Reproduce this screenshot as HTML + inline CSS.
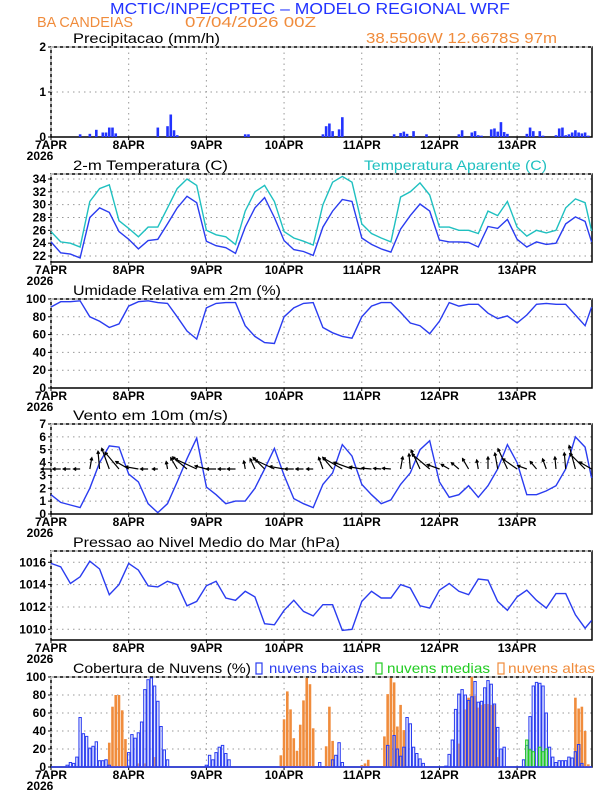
<!DOCTYPE html>
<html><head><meta charset="utf-8">
<style>
body{margin:0;background:#fff;}
svg{display:block;font-family:"Liberation Sans",sans-serif;}
</style></head>
<body>
<svg id="chart" width="612" height="792" viewBox="0 0 612 792">
<text x="110" y="14" textLength="400" lengthAdjust="spacingAndGlyphs" font-size="16" fill="#2233ff">MCTIC/INPE/CPTEC – MODELO REGIONAL WRF</text>
<text x="37" y="27" textLength="96" lengthAdjust="spacingAndGlyphs" font-size="15" fill="#f08c3c">BA CANDEIAS</text>
<text x="185" y="27" textLength="131" lengthAdjust="spacingAndGlyphs" font-size="15" fill="#f08c3c">07/04/2026 00Z</text>
<text x="366" y="43" textLength="191" lengthAdjust="spacingAndGlyphs" font-size="15" fill="#f08c3c">38.5506W 12.6678S 97m</text>
<g id="plots"></g>
</svg>
<script>
// ---- data (hours since 07APR 00Z) ----
const hours = [0,3,6,9,12,15,18,21,24,27,30,33,36,39,42,45,48,51,54,57,60,63,66,69,72,75,78,81,84,87,90,93,96,99,102,105,108,111,114,117,120,123,126,129,132,135,138,141,144,147,150,153,156,159,162,165,167];
const tempVals = [24.2,22.5,22.3,21.7,28.0,29.5,28.8,25.8,24.6,23.1,24.4,24.6,27.0,29.5,31.3,30.3,24.3,23.6,23.3,22.4,26.5,29.5,31.1,28.0,24.4,23.0,22.7,22.1,26.5,29.0,30.8,30.5,24.8,23.8,23.1,22.6,26.2,28.3,30.1,29.0,24.5,24.2,24.2,24.1,23.4,26.6,26.3,27.7,24.6,23.4,24.2,23.8,24.0,27.0,28.1,27.4,24.2];
const apparentVals = [25.8,24.2,24.0,23.4,30.5,32.5,33.1,27.5,26.3,25.0,26.5,26.5,29.5,32.5,34.0,33.0,26.0,25.3,25.0,23.8,29.0,32.0,33.0,30.5,25.8,24.8,24.3,23.7,30.0,33.5,34.4,33.5,27.0,25.5,24.8,24.2,31.2,32.0,33.4,31.5,26.5,26.5,26.0,26.0,25.5,29.0,28.3,30.5,26.5,25.1,26.0,25.6,26.0,29.5,30.9,30.3,25.9];
const rhVals = [91,97,97,98,80,75,68,72,92,97,98,96,95,80,64,55,90,95,96,96,70,58,51,50,80,90,95,96,68,62,58,56,80,92,96,96,85,73,70,61,75,96,92,94,94,84,78,81,73,82,94,95,94,94,82,70,91];
const windSpeed = [1.5,0.9,0.7,0.5,2.0,4.0,5.3,5.2,3.1,2.5,0.8,0.1,0.8,2.5,4.3,5.9,2.1,1.5,0.8,1.0,1.0,2.0,3.5,5.1,3.0,1.2,0.8,0.5,2.3,3.2,5.4,4.5,2.3,1.5,0.8,1.1,2.3,3.2,5.0,5.7,2.5,1.3,1.5,2.2,1.3,2.2,3.5,5.4,4.0,1.5,1.5,1.8,2.2,3.5,6.0,5.2,2.8];
const windDir = [180,180,180,180,80,95,110,130,150,170,180,180,100,120,140,155,165,180,180,180,100,115,135,155,170,180,180,180,110,130,150,160,170,175,175,175,80,95,115,140,160,150,140,120,100,90,100,115,145,160,130,110,95,95,105,135,150];
const pressVals = [1015.9,1015.6,1014.1,1014.7,1016.1,1015.4,1013.1,1014.0,1015.9,1015.3,1013.9,1013.8,1014.3,1014.0,1012.1,1012.5,1013.9,1014.3,1012.8,1012.6,1013.4,1012.9,1010.5,1010.4,1011.7,1012.6,1011.6,1011.2,1012.2,1012.2,1009.9,1010.0,1012.5,1013.4,1012.8,1012.8,1014.0,1013.7,1012.1,1011.9,1013.5,1014.1,1013.4,1013.1,1014.5,1014.4,1012.5,1011.7,1012.9,1013.5,1012.6,1011.9,1013.2,1013.2,1011.3,1010.1,1010.8];
const precipHours = [9,12,14,16,17,18,19,20,33,36,37,38,39,60,61,84,85,86,87,89,90,106,108,109,110,112,116,126,127,130,131,132,133,136,137,138,139,140,141,147,148,149,151,152,156,157,158,159,160,161,162,163,164,165,166];
const precipVals = [0.06,0.07,0.16,0.1,0.1,0.21,0.21,0.08,0.21,0.24,0.5,0.15,0.04,0.06,0.06,0.06,0.24,0.3,0.13,0.17,0.44,0.06,0.09,0.12,0.07,0.13,0.06,0.06,0.15,0.1,0.13,0.04,0.03,0.17,0.19,0.12,0.33,0.11,0.07,0.07,0.21,0.13,0.13,0.03,0.04,0.19,0.21,0.04,0.06,0.1,0.15,0.1,0.08,0.1,0.03];
const lowHours = [5,6,7,8,9,10,11,12,13,14,15,16,17,18,24,25,26,27,28,29,30,31,32,33,34,35,36,48,49,50,51,52,53,54,55,83,87,88,89,90,104,106,107,108,109,110,111,112,113,114,115,122,123,124,125,126,127,128,129,130,131,132,133,134,135,136,137,138,139,140,146,147,148,149,150,151,152,153,154,155,156,157,158,159,160,161,162,163,164];
const lowVals = [2,5,4,11,55,37,34,21,23,28,7,7,8,2,16,36,32,38,50,86,97,99,90,73,45,19,8,2,13,8,16,22,24,15,8,5,8,13,27,5,24,35,20,12,22,55,48,22,15,9,4,1,14,30,64,81,86,80,74,78,95,72,73,88,96,92,70,44,20,22,8,24,56,90,94,93,90,60,22,11,5,7,7,7,11,10,17,25,4];
const midHours = [147,148,149,151,152,153];
const midVals = [30,19,17,22,17,20];
const highHours = [18,19,20,21,22,23,27,29,32,71,72,73,74,75,76,77,78,79,80,81,85,86,87,96,97,98,103,104,105,106,107,108,109,126,128,129,130,131,132,133,134,135,136,137,138,162,163,164,165,166];
const highVals = [27,67,80,80,63,31,4,4,11,13,53,84,64,32,18,47,74,99,92,43,23,67,29,2,4,8,34,81,99,94,45,69,41,26,64,77,100,79,66,69,70,70,69,69,11,77,65,67,40,3];
const dayLabels = ["7APR","8APR","9APR","10APR","11APR","12APR","13APR"];

// ---- layout ----
const X0 = 51, PXH = 3.237, XR = 592;
const xOf = h => X0 + h * PXH;
const NS = "http://www.w3.org/2000/svg";
const root = document.getElementById('plots');
function mk(tag, attrs, parent){
  const e = document.createElementNS(NS, tag);
  for (const k in attrs) e.setAttribute(k, attrs[k]);
  (parent || root).appendChild(e);
  return e;
}
function yScale(v0, p0, v1, p1){ return v => p0 + (v - v0) * (p1 - p0) / (v1 - v0); }

function panel(name, top, bottom, ticks, y, title, tw){
  const g = mk('g', {});
  
  
  for (const t of ticks){
    const yy = y(t);
    if (yy > top + 1 && yy < bottom - 1){
      const gl = mk('line', {x1:X0, x2:XR, y1:yy, y2:yy, stroke:'#999', 'stroke-width':1, 'stroke-dasharray':'1.5,4'}, g);
      
      
    }
    mk('line', {x1:X0-3, x2:X0, y1:yy, y2:yy, stroke:'#000', 'stroke-width':1}, g);
    const tl = mk('text', {x:X0-5, y:yy+4, 'text-anchor':'end', 'font-size':12, fill:'#000', 'font-weight':'bold'}, g);
    tl.textContent = t;
    
    
  }
  for (let d = 1; d < 7; d++){
    const xx = xOf(d*24);
    mk('line', {x1:xx, x2:xx, y1:top, y2:bottom, stroke:'#999', 'stroke-width':1, 'stroke-dasharray':'1.5,4'}, g);
  }
  for (let d = 0; d < 7; d++){
    const xx = xOf(d*24);
    mk('line', {x1:xx, x2:xx, y1:bottom, y2:bottom+3, stroke:'#000', 'stroke-width':1}, g);
    const xl = mk('text', {x:xx, y:bottom+12, 'text-anchor':'middle', 'font-size':12, fill:'#000', 'font-weight':'bold'}, g);
    xl.textContent = dayLabels[d];
    
    
  }
  const yr = mk('text', {x:X0-11, y:bottom+23, 'text-anchor':'middle', 'font-size':12, fill:'#000', 'font-weight':'bold'}, g);
  yr.textContent = '2026';
  
  
  const fr = mk('rect', {x:X0, y:top, width:XR-X0, height:bottom-top, fill:'none', stroke:'#000', 'stroke-width':1.5}, g);
  
  
  mk('line', {x1:X0, x2:XR, y1:top, y2:top, stroke:'#fff', 'stroke-width':1, 'stroke-dasharray':'3,3'}, g);
  mk('line', {x1:X0, x2:X0, y1:top, y2:bottom, stroke:'#fff', 'stroke-width':1, 'stroke-dasharray':'3,3'}, g);
  const tt = mk('text', {x:73, y:top-4, 'font-size':14, fill:'#000', textLength:tw, lengthAdjust:'spacingAndGlyphs'}, g);
  tt.textContent = title;
  
  
  return g;
}
function line(g, vals, y, color, name){
  const d = hours.map((h,i) => (i ? 'L' : 'M') + xOf(h).toFixed(1) + ',' + y(vals[i]).toFixed(1)).join('');
  const p = mk('path', {d:d, fill:'none', stroke:color, 'stroke-width':1.4}, g);
  
  
}
function bars(g, hs, vs, y, base, w, fill, stroke, name){
  hs.forEach((h,i) => {
    const yy = y(vs[i]);
    const b = mk('rect', {x:xOf(h)-w/2, y:yy, width:w, height:Math.max(0, base-yy), fill:fill, stroke:stroke, 'stroke-width':stroke==='none'?0:1}, g);
    
    
  });
}

// Precip
const yP = yScale(0, 137, 2, 47);
const gP = panel('precip', 47, 137, [0,1,2], yP, 'Precipitacao (mm/h)', 147);
bars(gP, precipHours, precipVals, yP, 137, 2.6, '#2233ff', 'none', 'precip-bar');

// Temperature
const yT = yScale(22, 256, 34, 179);
const gT = panel('temp', 174, 262, [22,24,26,28,30,32,34], yT, '2-m Temperatura (C)', 155);
line(gT, apparentVals, yT, '#1fc0c0', 'apparent-temp-line');
line(gT, tempVals, yT, '#2a3cf0', 'temp-line');
const at = mk('text', {x:364, y:170, 'font-size':14, fill:'#1fc0c0', textLength:183, lengthAdjust:'spacingAndGlyphs'});
at.textContent = 'Temperatura Aparente (C)';



// RH
const yR = yScale(0, 388, 100, 299);
const gR = panel('rh', 299, 388, [0,20,40,60,80,100], yR, 'Umidade Relativa em 2m (%)', 208);
line(gR, rhVals, yR, '#2a3cf0', 'rh-line');

// Wind
const yW = yScale(0, 514, 7, 424);
const gW = panel('wind', 424, 514, [0,1,2,3,4,5,6,7], yW, 'Vento em 10m (m/s)', 155);
line(gW, windSpeed, yW, '#2a3cf0', 'wind-speed-line');
const baseY = yW(3.5);
hours.forEach((h,i) => {
  const L = 5 + windSpeed[i] * 3.2;
  const a = windDir[i] * Math.PI / 180;
  const x1 = xOf(h), x2 = x1 + Math.cos(a)*L, y2 = baseY - Math.sin(a)*L;
  const ang = Math.atan2(baseY - y2, x2 - x1);
  const hx1 = x2 - 3*Math.cos(ang - 0.5), hy1 = y2 + 3*Math.sin(ang - 0.5);
  const hx2 = x2 - 3*Math.cos(ang + 0.5), hy2 = y2 + 3*Math.sin(ang + 0.5);
  const ar = mk('path', {d:`M${x1},${baseY}L${x2},${y2}M${hx1},${hy1}L${x2},${y2}L${hx2},${hy2}`, stroke:'#000', 'stroke-width':1.2, fill:'none'}, gW);
  
  
});

// Pressure
const yPr = yScale(1010, 629.3, 1016, 562.3);
const gPr = panel('pressure', 551, 640, [1010,1012,1014,1016], yPr, 'Pressao ao Nivel Medio do Mar (hPa)', 267);
line(gPr, pressVals, yPr, '#2a3cf0', 'pressure-line');

// Clouds
const yC = yScale(0, 767, 100, 677);
const gC = panel('clouds', 677, 767, [0,20,40,60,80,100], yC, 'Cobertura de Nuvens (%)', 178);
bars(gC, highHours, highVals, yC, 767, 2.6, '#f08c3c', 'none', 'high-cloud-bar');
bars(gC, lowHours, lowVals, yC, 767, 2.4, 'rgba(190,200,255,0.35)', '#2a3cf0', 'low-cloud-bar');
bars(gC, midHours, midVals, yC, 767, 2.4, 'rgba(120,230,120,0.4)', '#22cc22', 'mid-cloud-bar');
mk('line', {x1:X0, x2:XR, y1:767, y2:767, stroke:'#2a3cf0', 'stroke-width':1.5});
const leg = [['nuvens baixas','#2a3cf0',269,95,256],['nuvens medias','#22cc22',387,103,376],['nuvens altas','#f08c3c',508,87,498]];
leg.forEach(l => {
  const r = mk('rect', {x:l[4], y:663, width:6, height:11, fill:'none', stroke:l[1], 'stroke-width':1.2});
  
  
  const t = mk('text', {x:l[2], y:673, 'font-size':14, fill:l[1], textLength:l[3], lengthAdjust:'spacingAndGlyphs'});
  t.textContent = l[0];
  
  
});
</script>
</body></html>
